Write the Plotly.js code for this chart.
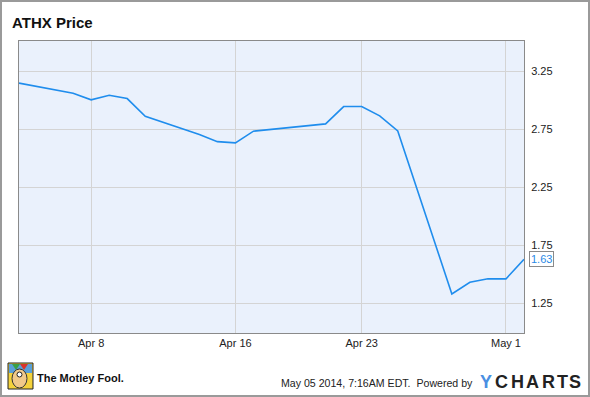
<!DOCTYPE html>
<html>
<head>
<meta charset="utf-8">
<script src="https://cdn.plot.ly/plotly-3.0.1.min.js"></script>
<style>
html,body{margin:0;padding:0;background:#fff;}
#wrap{position:relative;width:590px;height:397px;}
#chart{width:590px;height:397px;}
#frame{position:absolute;left:0;top:0;width:590px;height:397px;box-sizing:border-box;border:2px solid #9a9a9a;pointer-events:none;}
</style>
</head>
<body>
<div id="wrap"><div id="chart"></div><div id="frame"></div></div>
<script>
// Data
const dates = ['2014-04-04','2014-04-07','2014-04-08','2014-04-09','2014-04-10','2014-04-11',
  '2014-04-14','2014-04-15','2014-04-16','2014-04-17','2014-04-21','2014-04-22','2014-04-23',
  '2014-04-24','2014-04-25','2014-04-28','2014-04-29','2014-04-30','2014-05-01','2014-05-02'];
const prices = [3.147,3.06,3.003,3.043,3.014,2.862,
  2.705,2.643,2.632,2.733,2.796,2.945,2.945,
  2.865,2.735,1.330,1.431,1.462,1.460,1.63];
const xTickVals = ['2014-04-08','2014-04-16','2014-04-23','2014-05-01'];
const xTickText = ['Apr 8','Apr 16','Apr 23','May 1'];
const yTickVals = [1.25,1.75,2.25,2.75,3.25];
const lastLabel = '1.63';

const W = 590, H = 397;
const M = {l:19, r:65.5, t:41, b:64};
const pw = W - M.l - M.r, ph = H - M.t - M.b;
const px = x => (x - M.l) / pw;
const py = y => (H - M.b - y) / ph;

const font = 'Arial, "Liberation Sans", sans-serif';
const lastDate = dates[dates.length-1];
const lastPrice = prices[prices.length-1];

const annotations = [
  {xref:'paper', yref:'paper', x:px(10), y:py(22.5), xanchor:'left', yanchor:'middle',
   text:'<b>ATHX Price</b>', showarrow:false, font:{family:font, size:15, color:'#111'}},
  {xref:'x', yref:'y', x:lastDate, y:lastPrice, xanchor:'left', yanchor:'middle', xshift:5,
   text:lastLabel, showarrow:false, font:{family:font, size:11, color:'#2a8ae6'},
   bgcolor:'#ffffff', bordercolor:'#8a8a8a', borderwidth:1, borderpad:1},
  {xref:'paper', yref:'paper', x:px(35), y:py(377.5), xanchor:'left', yanchor:'middle',
   text:'<b>The Motley Fool.</b>', showarrow:false, font:{family:font, size:11, color:'#111'}},
  {xref:'paper', yref:'paper', x:px(475), y:py(382.5), xanchor:'right', yanchor:'middle',
   text:'May 05 2014, 7:16AM EDT.  Powered by', showarrow:false, font:{family:font, size:10.6, color:'#222'}}
];
// YCHARTS letters
const yc = [['Y',486,'#4a8fe2'],['C',501.5,'#222'],['H',517.5,'#222'],['A',533,'#222'],['R',549,'#222'],['T',563,'#222'],['S',575.5,'#222']];
yc.forEach(([t,cx,c]) => annotations.push({xref:'paper', yref:'paper', x:px(cx), y:py(381.5),
  xanchor:'center', yanchor:'middle', text:'<b>'+t+'</b>', showarrow:false,
  font:{family:'Arial, "Liberation Sans", sans-serif', size:18, color:c}}));

const shapes = [
  // pointer of last-value label
  {type:'path', xref:'x', yref:'y', xsizemode:'pixel', ysizemode:'pixel', xanchor:lastDate, yanchor:lastPrice,
   path:'M 5.5 -5 L 0.5 0 L 5.5 5', line:{color:'#8a8a8a', width:1}, fillcolor:'#ffffff', layer:'above'},
  // Motley Fool logo approximation
  {type:'rect', xref:'paper', yref:'paper', x0:px(8), x1:px(33), y0:py(389), y1:py(363), line:{color:'#222', width:1}, fillcolor:'#f4d23c'},
  {type:'rect', xref:'paper', yref:'paper', x0:px(9), x1:px(32), y0:py(373), y1:py(364), line:{width:0}, fillcolor:'#5aa0d8'},
  {type:'path', xref:'paper', yref:'paper', path:`M ${px(12)} ${py(364)} L ${px(16)} ${py(370)} L ${px(20)} ${py(364)} Z`, line:{width:0}, fillcolor:'#3aa047'},
  {type:'path', xref:'paper', yref:'paper', path:`M ${px(20)} ${py(364)} L ${px(24)} ${py(370)} L ${px(28)} ${py(364)} Z`, line:{width:0}, fillcolor:'#d9342b'},
  {type:'circle', xref:'paper', yref:'paper', x0:px(12), x1:px(27), y0:py(388), y1:py(369), line:{color:'#333', width:1}, fillcolor:'#f0c98a'},
  {type:'circle', xref:'paper', yref:'paper', x0:px(17), x1:px(22), y0:py(377), y1:py(372), line:{color:'#222', width:1}, fillcolor:'#ffffff'}
];

const trace = {x:dates, y:prices, type:'scatter', mode:'lines',
  line:{color:'#1f8ded', width:1.6}, hoverinfo:'skip'};

const layout = {
  width:W, height:H, margin:M, showlegend:false,
  paper_bgcolor:'#ffffff', plot_bgcolor:'#eaf1fc',
  xaxis:{type:'date', range:['2014-04-04','2014-05-02'], tickvals:xTickVals, ticktext:xTickText,
    showgrid:true, gridcolor:'#d4d4d4', gridwidth:1, zeroline:false,
    showline:true, linecolor:'#8a8a8a', linewidth:1, mirror:true, ticks:'', ticklen:0,
    tickfont:{family:font, size:11, color:'#222'}, fixedrange:true},
  yaxis:{range:[0.994,3.51], side:'right', tickvals:yTickVals, tickformat:'.2f',
    showgrid:true, gridcolor:'#d4d4d4', gridwidth:1, zeroline:false,
    showline:true, linecolor:'#8a8a8a', linewidth:1, mirror:true, ticks:'', ticklabelstandoff:4,
    tickfont:{family:font, size:11, color:'#222'}, fixedrange:true},
  annotations:annotations, shapes:shapes
};
Plotly.newPlot('chart', [trace], layout, {staticPlot:true, displayModeBar:false});
</script>
</body>
</html>
